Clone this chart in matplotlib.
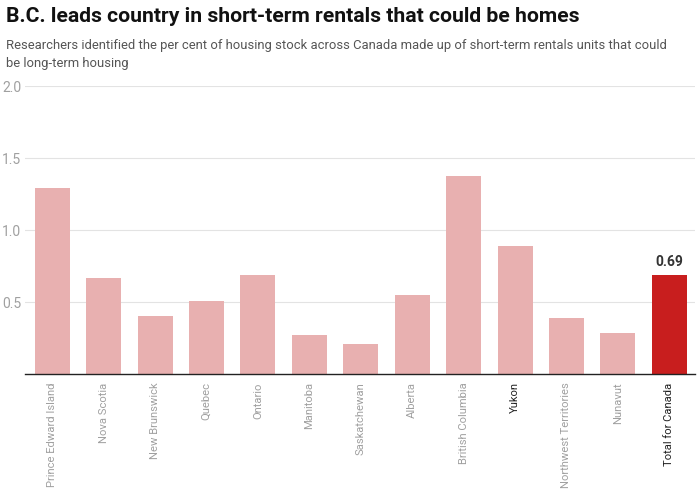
import matplotlib
matplotlib.use("Agg")
import matplotlib.pyplot as plt

categories = ["Prince Edward Island", "Nova Scotia", "New Brunswick", "Quebec", "Ontario",
              "Manitoba", "Saskatchewan", "Alberta", "British Columbia", "Yukon",
              "Northwest Territories", "Nunavut", "Total for Canada"]
values = [1.29, 0.67, 0.405, 0.505, 0.685, 0.27, 0.205, 0.55, 1.375, 0.89, 0.39, 0.285, 0.69]
yticks = [0.5, 1.0, 1.5, 2.0]
ytick_labels = ["0.5", "1.0", "1.5", "2.0"]

plt.rcParams['font.family'] = ['Roboto', 'DejaVu Sans']

W, H = 700, 496
L, R = 25, 695
fig = plt.figure(figsize=(W/100, H/100), dpi=100)
ax = fig.add_axes([L/W, 1 - 374/H, (R-L)/W, (374-86)/H])

colors = ["#e8b0b0"] * (len(values) - 1) + ["#c81e1e"]
x = list(range(len(values)))
ax.bar(x, values, width=0.68, color=colors, zorder=2)
ax.set_xlim(-0.53, 12.50)
ax.set_ylim(0, 2.0)
ax.set_yticks(yticks)
ax.set_yticklabels(ytick_labels)
ax.grid(axis='y', color='#e3e3e3', linewidth=0.8, zorder=0)
for s in ['top', 'right', 'left']:
    ax.spines[s].set_visible(False)
ax.spines['bottom'].set_color('#222222')
ax.spines['bottom'].set_linewidth(1.0)
ax.tick_params(axis='y', length=0, labelsize=10, labelcolor='#a0a0a0', pad=2)
ax.tick_params(axis='x', length=0, pad=6)
ax.set_xticks(x)
ax.set_xticklabels(categories, rotation=90, fontsize=8.1, color='#a0a0a0', va='top')
for i, lbl in enumerate(ax.get_xticklabels()):
    if categories[i] in ("Yukon", "Total for Canada"):
        lbl.set_color('#222222')
for lbl in ax.get_yticklabels():
    lbl.set_horizontalalignment('left')
    lbl.set_x((5 - L) / (R - L))

ax.text(x[-1], values[-1] + 0.04, f"{values[-1]:.2f}", ha='center', va='bottom',
        fontsize=10, fontweight='bold', color='#333333')

fig.text(6/W, 1 - 17/H, "B.C. leads country in short-term rentals that could be homes",
         fontsize=15.2, fontweight='bold', color='#111111', va='center', ha='left')
fig.text(6/W, 1 - 46/H, "Researchers identified the per cent of housing stock across Canada made up of short-term rentals units that could",
         fontsize=9.4, color='#555555', va='center', ha='left')
fig.text(6/W, 1 - 64/H, "be long-term housing",
         fontsize=9.4, color='#555555', va='center', ha='left')

fig.savefig("out.png", dpi=100)
